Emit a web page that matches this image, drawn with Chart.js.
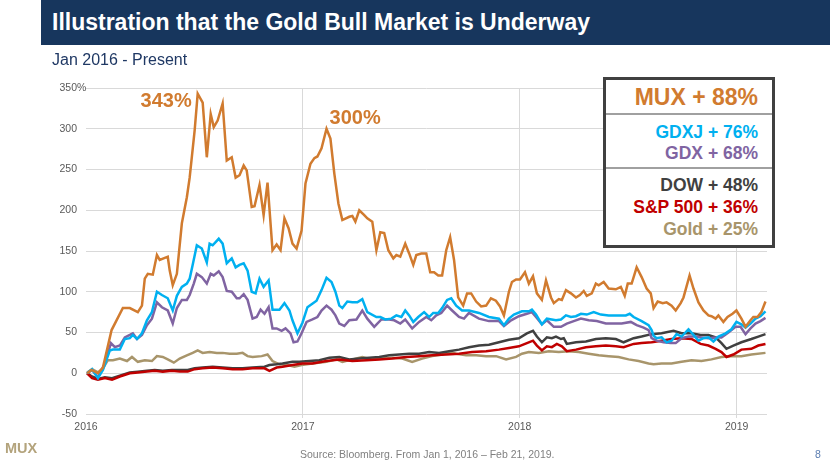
<!DOCTYPE html>
<html><head><meta charset="utf-8">
<script src="https://cdn.jsdelivr.net/npm/chart.js@4.4.1/dist/chart.umd.min.js"></script>
<style>
html,body{margin:0;padding:0;background:#fff;}
#wrap{position:relative;width:830px;height:467px;overflow:hidden;font-family:"Liberation Sans",Arial,sans-serif;}
#c{position:absolute;left:0;top:0;}
.abs{position:absolute;white-space:nowrap;}
#bar{left:41px;top:0;width:789px;height:45px;background:#17365D;}
#title{left:52px;top:0;height:45px;line-height:45px;font-size:23px;font-weight:bold;color:#fff;}
#sub{left:52px;top:50px;line-height:20px;font-size:16px;color:#1F3864;}
#box{left:603px;top:77px;width:172px;height:171px;border:3px solid #404040;box-sizing:border-box;background:#fff;}
.div{left:606px;width:166px;height:1.5px;background:#A0A0A0;}
.lg{right:72px;line-height:22px;font-weight:bold;text-align:right;}
#logo{left:5px;top:438px;line-height:20px;font-size:14.5px;font-weight:bold;color:#B3A37C;}
#src{left:300px;top:445px;line-height:18px;font-size:10.5px;color:#808080;}
#pg{left:815px;top:445px;line-height:18px;font-size:10.5px;color:#5B7DB1;}
</style></head>
<body>
<div id="wrap">
<canvas id="c" width="830" height="467"></canvas>
<div class="abs" id="bar"></div>
<div class="abs" id="title">Illustration that the Gold Bull Market is Underway</div>
<div class="abs" id="sub">Jan 2016 - Present</div>
<div class="abs" id="box"></div>
<div class="abs div" style="top:113px"></div>
<div class="abs div" style="top:167px"></div>
<div class="abs lg" style="top:86px;font-size:23px;color:#D17B2F">MUX + 88%</div>
<div class="abs lg" style="top:121px;font-size:17.5px;color:#00B0F0">GDXJ + 76%</div>
<div class="abs lg" style="top:142px;font-size:17.5px;color:#8064A2">GDX + 68%</div>
<div class="abs lg" style="top:174px;font-size:17.5px;color:#404040">DOW + 48%</div>
<div class="abs lg" style="top:196px;font-size:17.5px;color:#C00000">S&amp;P 500 + 36%</div>
<div class="abs lg" style="top:218px;font-size:17.5px;color:#A8956B">Gold + 25%</div>
<div class="abs" id="logo">MUX</div>
<div class="abs" id="src">Source: Bloomberg. From Jan 1, 2016 – Feb 21, 2019.</div>
<div class="abs" id="pg">8</div>
</div>
<script>
// ---- Data (x = decimal year, y = % change since Jan 1, 2016) ----
const xTickValues = [2016, 2017, 2018, 2019];
const yTickValues = [-50, 0, 50, 100, 150, 200, 250, 300, 350];

const muxYears = [2016.005,2016.026,2016.055,2016.078,2016.118,2016.170,2016.202,2016.239,2016.258,2016.271,2016.285,2016.308,2016.327,2016.340,2016.377,2016.386,2016.400,2016.419,2016.442,2016.465,2016.478,2016.501,2016.515,2016.538,2016.557,2016.575,2016.589,2016.607,2016.630,2016.649,2016.672,2016.690,2016.708,2016.727,2016.741,2016.764,2016.777,2016.800,2016.819,2016.837,2016.860,2016.879,2016.897,2016.915,2016.934,2016.952,2016.971,2016.994,2017.012,2017.035,2017.053,2017.067,2017.086,2017.109,2017.127,2017.145,2017.164,2017.182,2017.214,2017.228,2017.242,2017.260,2017.283,2017.297,2017.320,2017.339,2017.357,2017.375,2017.394,2017.417,2017.431,2017.449,2017.472,2017.490,2017.509,2017.523,2017.546,2017.569,2017.587,2017.605,2017.624,2017.642,2017.661,2017.679,2017.697,2017.716,2017.739,2017.757,2017.776,2017.799,2017.822,2017.845,2017.867,2017.890,2017.909,2017.927,2017.950,2017.964,2017.983,2018.001,2018.024,2018.042,2018.061,2018.079,2018.102,2018.121,2018.144,2018.157,2018.180,2018.194,2018.213,2018.236,2018.259,2018.277,2018.295,2018.309,2018.332,2018.351,2018.364,2018.387,2018.410,2018.443,2018.466,2018.484,2018.498,2018.516,2018.539,2018.562,2018.585,2018.604,2018.617,2018.636,2018.659,2018.677,2018.700,2018.719,2018.742,2018.755,2018.783,2018.801,2018.824,2018.847,2018.870,2018.884,2018.903,2018.916,2018.939,2018.958,2018.981,2018.999,2019.022,2019.041,2019.064,2019.077,2019.096,2019.114,2019.133];
const muxValues = [0,4,0,7,53,80,80,75,83,116,122,121,145,139,143,126,108,122,184,216,240,298,343,332,265,318,302,310,331,261,265,240,243,255,249,204,205,231,194,234,151,158,151,190,178,159,153,175,233,257,264,266,276,300,288,245,208,188,192,193,186,200,194,190,186,151,173,172,151,141,145,143,159,147,133,145,147,147,124,124,120,120,151,167,139,93,83,98,98,88,82,83,92,89,82,71,100,112,115,115,124,110,119,98,90,114,93,86,91,90,102,98,93,96,101,95,98,110,108,112,104,103,106,95,110,110,130,118,104,98,80,88,86,87,83,77,86,93,120,104,87,77,71,70,67,71,63,69,73,77,67,57,65,69,69,75,88];

const gdxjYears = [2016.005,2016.028,2016.055,2016.078,2016.110,2016.124,2016.156,2016.179,2016.202,2016.216,2016.235,2016.258,2016.281,2016.304,2016.327,2016.350,2016.377,2016.400,2016.419,2016.442,2016.465,2016.478,2016.492,2016.511,2016.534,2016.557,2016.570,2016.584,2016.612,2016.630,2016.649,2016.672,2016.690,2016.708,2016.727,2016.745,2016.764,2016.782,2016.800,2016.819,2016.842,2016.860,2016.892,2016.915,2016.938,2016.952,2016.975,2016.998,2017.021,2017.063,2017.086,2017.109,2017.132,2017.150,2017.168,2017.182,2017.205,2017.228,2017.251,2017.274,2017.297,2017.339,2017.357,2017.380,2017.408,2017.431,2017.454,2017.472,2017.490,2017.509,2017.532,2017.559,2017.582,2017.601,2017.624,2017.642,2017.665,2017.684,2017.707,2017.734,2017.766,2017.812,2017.858,2017.904,2017.927,2017.950,2017.973,2018.010,2018.042,2018.056,2018.075,2018.102,2018.125,2018.167,2018.190,2018.213,2018.236,2018.259,2018.282,2018.309,2018.341,2018.374,2018.410,2018.456,2018.489,2018.507,2018.525,2018.562,2018.594,2018.608,2018.617,2018.631,2018.654,2018.677,2018.700,2018.723,2018.746,2018.778,2018.801,2018.824,2018.847,2018.870,2018.893,2018.916,2018.949,2018.976,2018.999,2019.022,2019.041,2019.064,2019.087,2019.110,2019.133];
const gdxjValues = [0,5,-6,4,28,29,29,42,43,47,42,49,65,75,100,96,92,77,95,106,110,116,133,157,153,136,159,157,165,159,135,141,130,133,135,126,100,98,116,106,114,78,78,86,77,65,49,62,81,89,102,117,112,100,83,80,88,87,87,91,75,69,69,66,67,71,69,77,71,63,69,75,69,74,74,80,90,92,83,77,77,74,69,67,59,67,72,76,76,78,72,60,67,65,66,71,69,70,73,72,75,72,71,71,71,73,69,64,59,53,46,43,44,38,40,48,45,54,47,40,43,44,39,45,49,54,63,60,56,61,67,70,76];

const gdxYears = [2016.005,2016.028,2016.055,2016.087,2016.115,2016.133,2016.156,2016.179,2016.202,2016.216,2016.235,2016.258,2016.281,2016.304,2016.327,2016.350,2016.377,2016.400,2016.419,2016.442,2016.465,2016.478,2016.497,2016.511,2016.534,2016.557,2016.575,2016.589,2016.612,2016.630,2016.649,2016.672,2016.695,2016.708,2016.727,2016.745,2016.768,2016.787,2016.805,2016.823,2016.842,2016.860,2016.879,2016.902,2016.920,2016.943,2016.957,2016.975,2016.994,2017.017,2017.044,2017.067,2017.086,2017.109,2017.132,2017.150,2017.168,2017.191,2017.214,2017.247,2017.274,2017.297,2017.329,2017.362,2017.398,2017.421,2017.449,2017.472,2017.504,2017.536,2017.569,2017.592,2017.615,2017.638,2017.665,2017.688,2017.720,2017.743,2017.766,2017.812,2017.858,2017.904,2017.927,2017.960,2017.996,2018.033,2018.056,2018.075,2018.102,2018.125,2018.157,2018.190,2018.217,2018.249,2018.282,2018.318,2018.355,2018.397,2018.433,2018.470,2018.512,2018.539,2018.571,2018.594,2018.608,2018.631,2018.663,2018.696,2018.719,2018.746,2018.778,2018.811,2018.838,2018.870,2018.903,2018.930,2018.962,2018.995,2019.018,2019.041,2019.064,2019.087,2019.110,2019.133];
const gdxValues = [0,4,-5,12,37,32,34,44,47,49,42,47,59,67,87,81,77,61,80,90,90,96,110,122,118,110,122,120,125,118,101,100,92,92,97,90,67,69,78,73,81,55,55,52,55,49,38,39,49,63,66,69,77,83,78,71,61,58,65,66,77,67,57,66,66,65,61,66,55,63,69,65,71,74,83,77,69,67,74,67,64,64,58,65,70,73,75,69,60,65,57,57,61,64,67,65,64,61,61,61,63,59,56,53,43,40,38,37,37,43,45,45,44,43,44,44,50,57,57,48,55,61,64,68];

const dowYears = [2016.005,2016.028,2016.055,2016.087,2016.120,2016.156,2016.202,2016.239,2016.281,2016.317,2016.354,2016.396,2016.432,2016.469,2016.501,2016.538,2016.584,2016.630,2016.676,2016.722,2016.768,2016.823,2016.846,2016.879,2016.906,2016.952,2016.984,2017.030,2017.076,2017.122,2017.168,2017.214,2017.260,2017.306,2017.352,2017.398,2017.444,2017.490,2017.536,2017.582,2017.628,2017.674,2017.720,2017.766,2017.812,2017.858,2017.904,2017.950,2017.996,2018.033,2018.061,2018.079,2018.102,2018.125,2018.148,2018.167,2018.190,2018.203,2018.217,2018.259,2018.305,2018.351,2018.397,2018.443,2018.479,2018.525,2018.562,2018.608,2018.654,2018.709,2018.746,2018.792,2018.834,2018.870,2018.903,2018.930,2018.953,2018.985,2019.022,2019.068,2019.100,2019.133];
const dowValues = [0,-4,-7,-5,-6,-3,1,2,3,4,3,4,4,4,6,7,8,7,6,6,7,8,10,11,12,14,14,15,16,19,20,17,18,19,20,22,23,24,24,26,25,27,29,32,34,35,38,41,43,49,52,45,38,44,43,45,42,43,36,38,39,42,43,42,38,43,45,48,49,52,49,49,47,47,44,37,30,34,38,42,45,48];

const spYears = [2016.005,2016.028,2016.055,2016.087,2016.120,2016.156,2016.202,2016.239,2016.281,2016.317,2016.354,2016.396,2016.432,2016.469,2016.501,2016.538,2016.584,2016.630,2016.676,2016.722,2016.768,2016.823,2016.846,2016.879,2016.906,2016.952,2016.998,2017.044,2017.109,2017.168,2017.228,2017.293,2017.352,2017.412,2017.477,2017.536,2017.596,2017.661,2017.720,2017.780,2017.845,2017.904,2017.950,2017.996,2018.033,2018.061,2018.079,2018.102,2018.125,2018.148,2018.171,2018.194,2018.217,2018.259,2018.305,2018.351,2018.397,2018.443,2018.479,2018.525,2018.562,2018.608,2018.654,2018.700,2018.746,2018.792,2018.834,2018.870,2018.903,2018.930,2018.953,2018.985,2019.022,2019.068,2019.100,2019.133];
const spValues = [0,-6,-8,-6,-8,-4,0,1,2,3,2,3,2,2,5,6,7,6,5,5,6,6,3,7,8,10,12,12,15,17,15,16,17,18,20,21,22,23,24,26,27,29,31,33,37,40,34,28,33,32,36,33,27,29,32,33,34,33,32,36,37,38,40,42,43,42,36,34,30,26,20,23,29,30,34,36];

const goldYears = [2016.005,2016.028,2016.055,2016.078,2016.101,2016.124,2016.156,2016.189,2016.212,2016.239,2016.271,2016.304,2016.327,2016.354,2016.377,2016.405,2016.432,2016.465,2016.492,2016.515,2016.538,2016.570,2016.603,2016.630,2016.662,2016.695,2016.722,2016.745,2016.768,2016.810,2016.837,2016.860,2016.892,2016.929,2016.961,2016.994,2017.044,2017.109,2017.155,2017.182,2017.228,2017.274,2017.316,2017.362,2017.412,2017.458,2017.504,2017.550,2017.596,2017.642,2017.674,2017.707,2017.753,2017.799,2017.845,2017.891,2017.937,2017.983,2018.010,2018.042,2018.088,2018.134,2018.180,2018.226,2018.272,2018.318,2018.364,2018.410,2018.456,2018.502,2018.548,2018.594,2018.617,2018.654,2018.700,2018.746,2018.792,2018.838,2018.884,2018.930,2018.976,2019.022,2019.068,2019.133];
const goldValues = [1,5,1,6,16,16,18,15,20,14,16,15,21,20,17,13,18,22,25,28,25,26,25,25,24,24,25,21,20,21,23,15,11,10,8,10,12,14,17,14,17,20,17,18,19,18,14,18,21,23,26,24,22,22,21,21,17,20,24,26,25,27,26,27,26,24,22,21,20,17,15,12,11,12,12,14,16,15,17,20,21,21,23,25];

const annotationYears = [2016.515, 2017.109];
const annotationValues = [343, 300];
const annotationTexts = ['343%', '300%'];

// ---- Chart ----
const FONT = '"Liberation Sans", Arial, sans-serif';
Chart.defaults.font.family = FONT;
const MUX_COLOR = '#D17B2F';

function pts(xs, ys){ return xs.map((x, i) => ({x: x, y: ys[i]})); }

const datasets = [
  {label:'MUX',  data:pts(muxYears, muxValues),   borderColor:MUX_COLOR, order:0},
  {label:'GDXJ', data:pts(gdxjYears, gdxjValues), borderColor:'#00B0F0', order:1},
  {label:'GDX',  data:pts(gdxYears, gdxValues),   borderColor:'#8064A2', order:2},
  {label:'S&P 500', data:pts(spYears, spValues),  borderColor:'#C00000', order:3},
  {label:'DOW',  data:pts(dowYears, dowValues),   borderColor:'#404040', order:4},
  {label:'Gold', data:pts(goldYears, goldValues), borderColor:'#A8956B', order:5}
].map(d => Object.assign(d, {borderWidth:2.5, pointRadius:0, tension:0, fill:false}));

const extras = {
  id:'extras',
  afterDatasetsDraw(chart){
    const c = chart.ctx, xs = chart.scales.x, ys = chart.scales.y;
    c.save();
    c.font = 'bold 20px ' + FONT;
    c.fillStyle = MUX_COLOR;
    c.textBaseline = 'middle';
    let px = xs.getPixelForValue(annotationYears[0]), py = ys.getPixelForValue(annotationValues[0]);
    c.textAlign = 'right';
    c.fillText(annotationTexts[0], px - 6, py + 8);
    px = xs.getPixelForValue(annotationYears[1]); py = ys.getPixelForValue(annotationValues[1]);
    c.textAlign = 'left';
    c.fillText(annotationTexts[1], px + 3, py - 10);
    // percent sign on the top y tick
    c.font = '10.5px ' + FONT;
    c.fillStyle = '#595959';
    c.textAlign = 'left';
    c.fillText('%', chart.chartArea.left - 9, ys.getPixelForValue(yTickValues[yTickValues.length - 1]));
    c.restore();
  }
};

new Chart(document.getElementById('c'), {
  type:'line',
  data:{datasets},
  options:{
    responsive:false, animation:false,
    layout:{padding:{left:0, right:63, top:88, bottom:0}},
    plugins:{legend:{display:false}, tooltip:{enabled:false}},
    scales:{
      x:{
        type:'linear', min:2016, max:2019.14,
        afterBuildTicks: s => { s.ticks = xTickValues.map(v => ({value:v})); },
        afterFit: s => { s.height = 53; },
        ticks:{callback: v => String(v), color:'#595959', font:{size:10.5}, padding:3, maxRotation:0, autoSkip:false},
        grid:{color: ctx => (ctx.tick && ctx.tick.value === 2016) ? 'rgba(0,0,0,0)' : '#D9D9D9', lineWidth:1, tickLength:4},
        border:{display:false}
      },
      y:{
        min:-50, max:350,
        afterBuildTicks: s => { s.ticks = yTickValues.map(v => ({value:v})); },
        afterFit: s => { s.width = 86; },
        ticks:{callback: v => String(v), color:'#595959', font:{size:10.5}, padding:9},
        grid:{color:'#D9D9D9', lineWidth:1, drawTicks:false},
        border:{display:false}
      }
    }
  },
  plugins:[extras]
});
</script>
</body></html>
